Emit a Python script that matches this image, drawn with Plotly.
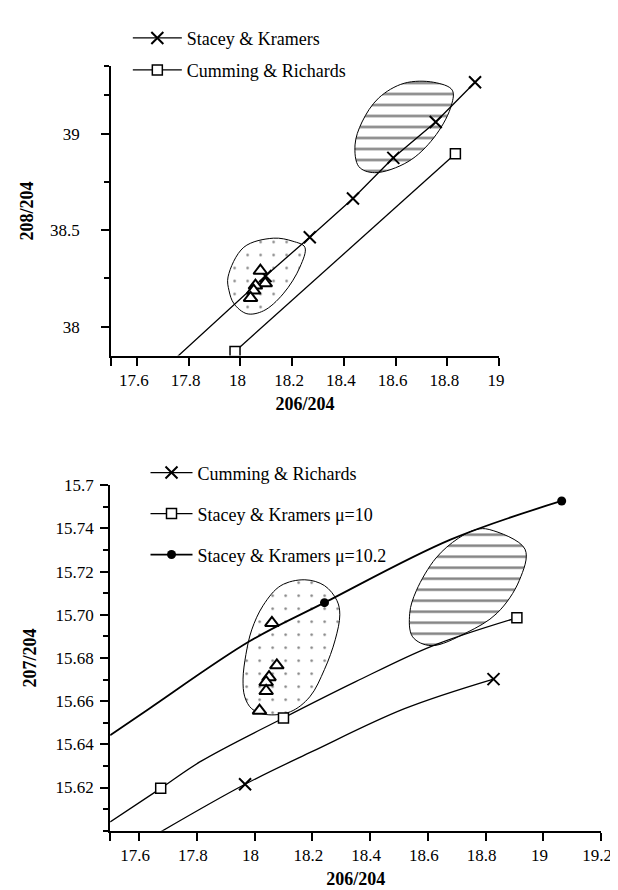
import plotly.graph_objects as go

# ---------------- Top panel: 208/204 vs 206/204 ----------------
top_sk_x = [18.097, 18.268, 18.435, 18.591, 18.755, 18.907]
top_sk_y = [38.263, 38.464, 38.665, 38.876, 39.062, 39.268]
top_sk_tail_x = [17.72]          # curve continues to the axis
top_sk_tail_y = [37.80]

top_cr_x = [17.979, 18.831]
top_cr_y = [37.871, 38.897]

top_tri_x = [18.077, 18.096, 18.058, 18.051, 18.039]
top_tri_y = [38.290, 38.225, 38.213, 38.187, 38.149]

top_dot_x = [18.127, 18.203, 18.249, 18.230, 18.165, 18.089, 18.025, 17.975, 17.956, 17.952, 18.013, 18.127]
top_dot_y = [38.459, 38.443, 38.412, 38.309, 38.170, 38.082, 38.067, 38.119, 38.186, 38.258, 38.412, 38.459]

top_hat_x = [18.633, 18.747, 18.819, 18.812, 18.747, 18.648, 18.519, 18.458, 18.443, 18.470, 18.534, 18.633]
top_hat_y = [39.263, 39.268, 39.227, 39.134, 38.979, 38.856, 38.799, 38.830, 38.943, 39.062, 39.186, 39.263]

top_xticks = [17.6, 17.8, 18.0, 18.2, 18.4, 18.6, 18.8, 19.0]
top_xtext = ["17.6", "17.8", "18", "18.2", "18.4", "18.6", "18.8", "19"]
top_yticks = [38.0, 38.5, 39.0]
top_ytext = ["38", "38.5", "39"]

# ---------------- Bottom panel: 207/204 vs 206/204 ----------------
bot_cr_curve_x = [17.66, 17.967, 18.2, 18.519, 18.827]
bot_cr_curve_y = [15.5983, 15.6215, 15.6367, 15.6565, 15.6702]
bot_cr_pts_x = [17.967, 18.827]
bot_cr_pts_y = [15.6215, 15.6702]

bot_sk10_curve_x = [17.5, 17.675, 17.815, 18.1, 18.35, 18.612, 18.908]
bot_sk10_curve_y = [15.604, 15.6196, 15.6322, 15.6522, 15.669, 15.6854, 15.6986]
bot_sk10_pts_x = [17.675, 18.1, 18.908]
bot_sk10_pts_y = [15.6196, 15.6522, 15.6986]

bot_sk102_curve_x = [17.5, 17.635, 17.981, 18.242, 18.678, 19.063]
bot_sk102_curve_y = [15.6442, 15.6565, 15.6876, 15.7056, 15.7348, 15.7527]
bot_sk102_pts_x = [18.242, 19.063]
bot_sk102_pts_y = [15.7056, 15.7527]

bot_tri_x = [18.060, 18.077, 18.050, 18.040, 18.040, 18.017]
bot_tri_y = [15.6962, 15.6766, 15.6711, 15.6688, 15.6647, 15.6556]

bot_dot_x = [18.174, 18.242, 18.285, 18.295, 18.279, 18.242, 18.191, 18.124, 18.040, 17.990, 17.966, 17.960, 17.970, 17.990, 18.030, 18.091, 18.174]
bot_dot_y = [15.7162, 15.7135, 15.7066, 15.7000, 15.6884, 15.6747, 15.6620, 15.6551, 15.6538, 15.6565, 15.6620, 15.6702, 15.6816, 15.6930, 15.7044, 15.7135, 15.7162]

bot_hat_x = [18.812, 18.936, 18.916, 18.839, 18.732, 18.611, 18.547, 18.537, 18.560, 18.628, 18.705, 18.768, 18.812]
bot_hat_y = [15.7395, 15.7304, 15.7158, 15.7007, 15.6916, 15.6857, 15.6898, 15.7007, 15.7112, 15.7263, 15.7354, 15.7395, 15.7395]

bot_xticks = [17.6, 17.8, 18.0, 18.2, 18.4, 18.6, 18.8, 19.0, 19.2]
bot_xtext = ["17.6", "17.8", "18", "18.2", "18.4", "18.6", "18.8", "19", "19.2"]
bot_yticks = [15.62, 15.64, 15.66, 15.68, 15.70, 15.72, 15.74, 15.76]
bot_ytext = ["15.62", "15.64", "15.66", "15.68", "15.70", "15.72", "15.74", "15.7"]

FONT = "Liberation Serif"
BLK = "black"

fig = go.Figure()

def region(x, y, shape, size, sol, xa, ya):
    fig.add_trace(go.Scatter(
        x=x, y=y, mode="lines", fill="toself", line=dict(color=BLK, width=1, shape="spline", smoothing=1),
        fillcolor="rgba(0,0,0,0)",
        fillpattern=dict(shape=shape, size=size, solidity=sol, fgcolor=BLK, bgcolor="rgba(0,0,0,0)"),
        showlegend=False, hoverinfo="skip", xaxis=xa, yaxis=ya))

# regions
region(top_dot_x, top_dot_y, ".", 13, 0.03, "x", "y")
region(top_hat_x, top_hat_y, "-", 11, 0.22, "x", "y")
region(bot_dot_x, bot_dot_y, ".", 13, 0.03, "x2", "y2")
region(bot_hat_x, bot_hat_y, "-", 11, 0.22, "x2", "y2")

XM = dict(symbol="x-thin", size=12, line=dict(color=BLK, width=2), color=BLK)
SQ = dict(symbol="square", size=10, color="white", line=dict(color=BLK, width=1.5))
CI = dict(symbol="circle", size=9, color=BLK, line=dict(color=BLK, width=0))
TR = dict(symbol="triangle-up", size=12, color="white", line=dict(color=BLK, width=2))

# top curves
fig.add_trace(go.Scatter(x=top_sk_tail_x + top_sk_x, y=top_sk_tail_y + top_sk_y, mode="lines",
                         line=dict(color=BLK, width=1.3), showlegend=False, xaxis="x", yaxis="y"))
fig.add_trace(go.Scatter(x=top_sk_x, y=top_sk_y, mode="markers", marker=XM, showlegend=False, xaxis="x", yaxis="y"))
fig.add_trace(go.Scatter(x=top_cr_x, y=top_cr_y, mode="lines+markers", line=dict(color=BLK, width=1.3),
                         marker=SQ, showlegend=False, xaxis="x", yaxis="y"))
fig.add_trace(go.Scatter(x=top_tri_x, y=top_tri_y, mode="markers", marker=TR, showlegend=False, xaxis="x", yaxis="y"))

# bottom curves
fig.add_trace(go.Scatter(x=bot_cr_curve_x, y=bot_cr_curve_y, mode="lines", line=dict(color=BLK, width=1.3, shape="spline"),
                         showlegend=False, xaxis="x2", yaxis="y2"))
fig.add_trace(go.Scatter(x=bot_cr_pts_x, y=bot_cr_pts_y, mode="markers", marker=XM, showlegend=False, xaxis="x2", yaxis="y2"))
fig.add_trace(go.Scatter(x=bot_sk10_curve_x, y=bot_sk10_curve_y, mode="lines", line=dict(color=BLK, width=1.3, shape="spline"),
                         showlegend=False, xaxis="x2", yaxis="y2"))
fig.add_trace(go.Scatter(x=bot_sk10_pts_x, y=bot_sk10_pts_y, mode="markers", marker=SQ, showlegend=False, xaxis="x2", yaxis="y2"))
fig.add_trace(go.Scatter(x=bot_sk102_curve_x, y=bot_sk102_curve_y, mode="lines", line=dict(color=BLK, width=1.8, shape="spline"),
                         showlegend=False, xaxis="x2", yaxis="y2"))
fig.add_trace(go.Scatter(x=bot_sk102_pts_x, y=bot_sk102_pts_y, mode="markers", marker=CI, showlegend=False, xaxis="x2", yaxis="y2"))
fig.add_trace(go.Scatter(x=bot_tri_x, y=bot_tri_y, mode="markers", marker=TR, showlegend=False, xaxis="x2", yaxis="y2"))

# legend entries
def leg(name, marker, legend, group, xa, ya, lw=1.3):
    fig.add_trace(go.Scatter(x=[None], y=[None], mode="lines+markers", name=name, marker=marker,
                             line=dict(color=BLK, width=lw), legend=legend, legendgroup=group,
                             xaxis=xa, yaxis=ya))

leg("Stacey & Kramers", XM, "legend", "a", "x", "y")
leg("Cumming & Richards", SQ, "legend", "b", "x", "y")
leg("Cumming & Richards", XM, "legend2", "c", "x2", "y2")
leg("Stacey & Kramers \u03bc=10", SQ, "legend2", "d", "x2", "y2")
leg("Stacey & Kramers \u03bc=10.2", CI, "legend2", "e", "x2", "y2", lw=1.8)

axis_common = dict(showline=True, linewidth=2, linecolor=BLK, ticks="outside", ticklen=8, tickwidth=1.5,
                   tickcolor=BLK, showgrid=False, zeroline=False, mirror=False,
                   tickfont=dict(family=FONT, size=17, color=BLK))

fig.update_layout(
    width=618, height=890,
    margin=dict(l=0, r=0, t=0, b=0),
    paper_bgcolor="white", plot_bgcolor="white",
    font=dict(family=FONT, size=18, color=BLK),
    xaxis=dict(axis_common, domain=[105/618, 500/618], anchor="y", range=[17.5, 19.0],
               tickmode="array", tickvals=top_xticks, ticktext=top_xtext, ticklabelshift=-3,
               minor=dict(tickvals=[17.5], ticks="outside", ticklen=8, tickwidth=1.5, tickcolor=BLK),
               title=dict(text="<b>206/204</b>", font=dict(family=FONT, size=18), standoff=8)),
    yaxis=dict(axis_common, domain=[1-342/890, 1-50/890], anchor="x", range=[37.85, 39.35],
               tickmode="array", tickvals=top_yticks, ticktext=top_ytext, ticklabelstandoff=18,
               minor=dict(tickvals=[38.25, 38.75, 39.2, 39.35], ticks="outside", ticklen=5, tickwidth=1.5, tickcolor=BLK),
               title=dict(text="<b>208/204</b>", font=dict(family=FONT, size=18), standoff=12)),
    xaxis2=dict(axis_common, domain=[104/618, 604/618], anchor="y2", range=[17.5, 19.2],
                tickmode="array", tickvals=bot_xticks, ticktext=bot_xtext, ticklabelshift=-4,
                minor=dict(tickvals=[17.5], ticks="outside", ticklen=8, tickwidth=1.5, tickcolor=BLK),
                title=dict(text="<b>206/204</b>", font=dict(family=FONT, size=18), standoff=8)),
    yaxis2=dict(axis_common, domain=[1-822/890, 1-473/890], anchor="x2", range=[15.6, 15.76],
                tickmode="array", tickvals=bot_yticks, ticktext=bot_ytext, ticklabelstandoff=3,
                minor=dict(dtick=0.01, tick0=15.61, ticks="outside", ticklen=5, tickwidth=1.5, tickcolor=BLK),
                title=dict(text="<b>207/204</b>", font=dict(family=FONT, size=18), standoff=14)),
    legend=dict(x=122/618, y=1-2.8/890, xanchor="left", yanchor="top", bgcolor="rgba(0,0,0,0)",
                borderwidth=0, itemwidth=49, tracegroupgap=5.6, font=dict(family=FONT, size=18, color=BLK)),
    legend2=dict(x=140/618, y=1-441.8/890, xanchor="left", yanchor="top", bgcolor="rgba(0,0,0,0)",
                 borderwidth=0, itemwidth=42, tracegroupgap=14.6, font=dict(family=FONT, size=18, color=BLK)),
)

fig.write_html("out.html")
